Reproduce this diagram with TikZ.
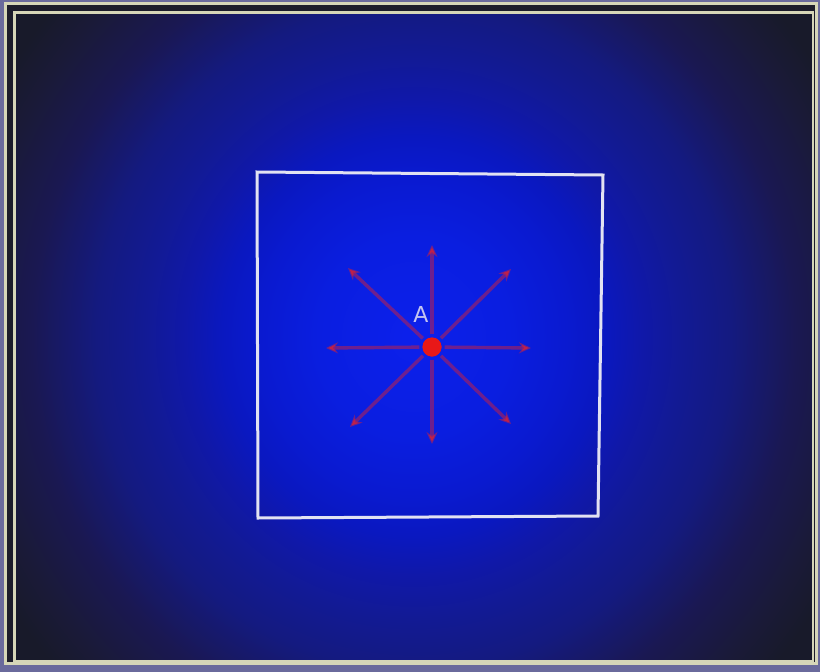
\documentclass[tikz,border=0pt]{standalone}
\usepackage{fontspec}
\setmainfont{DejaVu Sans}
\usetikzlibrary{arrows.meta}
\definecolor{outerbg}{HTML}{6A6A9C}
\definecolor{framelight}{HTML}{D6D6B8}
\definecolor{framedark}{HTML}{1C1C2A}
\definecolor{boxwhite}{HTML}{E2E2F2}
\definecolor{arrowred}{HTML}{C02048}
\definecolor{dotred}{HTML}{E81818}
\definecolor{labelcol}{HTML}{C4C4F0}
\definecolor{gA}{HTML}{0C20EC}
\definecolor{gB}{HTML}{0A1EE0}
\definecolor{gC}{HTML}{0A1AD0}
\definecolor{gD}{HTML}{0A18C0}
\definecolor{gE}{HTML}{1018A8}
\definecolor{gF}{HTML}{121A95}
\definecolor{gG}{HTML}{141A80}
\definecolor{gH}{HTML}{1A1852}
\definecolor{gI}{HTML}{1A1A38}
\definecolor{gJ}{HTML}{181A2A}
\definecolor{gK}{HTML}{161A28}
\pgfdeclareradialshading{bluegrad}{\pgfpoint{0bp}{0bp}}{%
  color(0bp)=(gA);
  color(6bp)=(gB);
  color(9.6bp)=(gC);
  color(12bp)=(gD);
  color(14.4bp)=(gE);
  color(16.8bp)=(gF);
  color(19.9bp)=(gG);
  color(24bp)=(gH);
  color(27.6bp)=(gI);
  color(30bp)=(gJ);
  color(36bp)=(gK);
  color(50bp)=(gK)}
\tikzset{
  ray/.style={draw=arrowred, draw opacity=0.55, line width=3.4pt,
    -{Stealth[length=12pt,width=11pt]}, shorten <=3pt},
  sqbox/.style={draw=boxwhite, line width=3pt},
  dot/.style={circle, fill=dotred, minimum size=19pt, inner sep=0pt},
  lbl/.style={text=labelcol, font=\fontsize{22}{22}\selectfont}
}
\begin{document}
\begin{tikzpicture}[x=1pt,y=-1pt]
\useasboundingbox (0,0) rectangle (820,672);
\fill[outerbg] (0,0) rectangle (820,672);
\fill[framedark] (4,2) rectangle (818,665);
\draw[framelight, line width=3pt] (5.5,3.5) rectangle (816.5,663.5);
\begin{scope}
  \clip (15,13) rectangle (812,660);
  \shade[shading=bluegrad] (15,-80) rectangle (812,753);
\end{scope}
\draw[framelight, line width=2.5pt] (14.5,12.5) rectangle (813,661);
% inner white square
\draw[sqbox] (257,172) -- (603,175) -- (598,516) -- (258,518) -- cycle;
% centre charge
\node[dot] (c) at (432,347) {};
\coordinate (eN)  at (432,245);
\coordinate (eNE) at (511,269);
\coordinate (eE)  at (531,348);
\coordinate (eSE) at (511,424);
\coordinate (eS)  at (432,444);
\coordinate (eSW) at (350,427);
\coordinate (eW)  at (326,348);
\coordinate (eNW) at (348,268);
\foreach \e in {eN,eNE,eE,eSE,eS,eSW,eW,eNW}{
  \draw[ray] (c) -- (\e);
}
\node[dot] at (c) {};
\node[lbl] (A) at (421,314) {A};
\end{tikzpicture}
\end{document}
